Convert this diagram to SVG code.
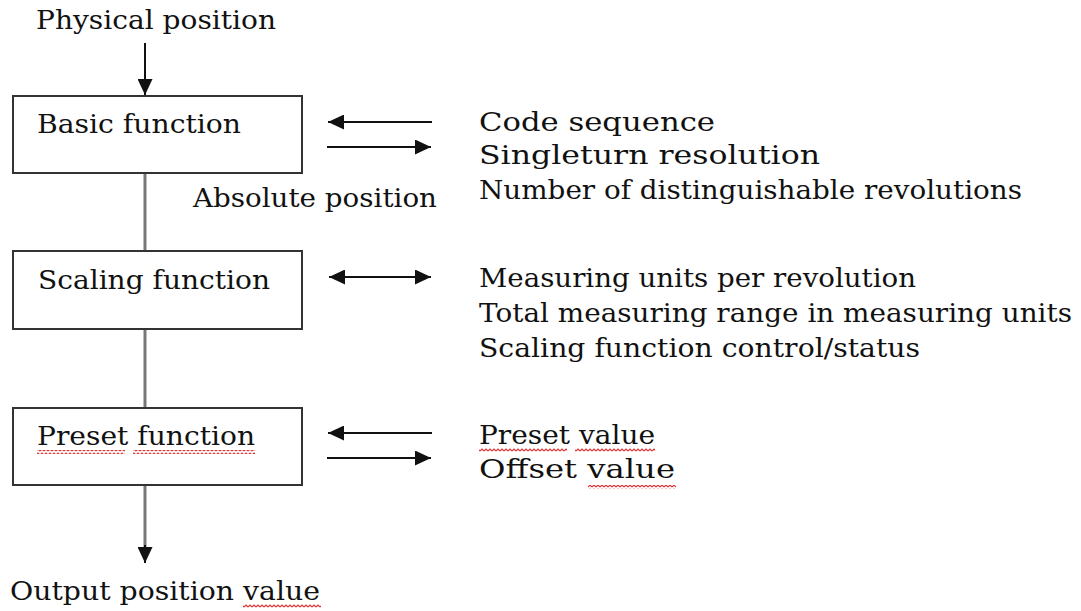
<svg xmlns="http://www.w3.org/2000/svg" width="1081" height="611" viewBox="0 0 1081 611">
<style>
  text { font-family: "DejaVu Serif", "Liberation Serif", serif; font-size: 26px; fill: #111; }
  .box { fill: #fff; stroke: #333; stroke-width: 2; }
  .arr { stroke: #111; stroke-width: 2; fill: none; }
  .conn { stroke: #777; stroke-width: 3; fill: none; }
</style>
<defs>
  <marker id="ah" markerUnits="userSpaceOnUse" markerWidth="17" markerHeight="15" refX="16" refY="7.5" orient="auto-start-reverse">
    <path d="M0,0 L16,7.5 L0,15 z" fill="#111"/>
  </marker>
  <pattern id="squig" width="4" height="4" patternUnits="userSpaceOnUse">
    <path d="M0,3 L2,1 L4,3" stroke="#e03030" stroke-width="1.2" fill="none"/>
  </pattern>
</defs>
<rect width="1081" height="611" fill="#fff"/>

<g id="connectors">
  <line class="arr" x1="145" y1="43" x2="145" y2="95" marker-end="url(#ah)"/>
  <line class="conn" x1="145" y1="173" x2="145" y2="251"/>
  <line class="conn" x1="145" y1="329" x2="145" y2="408"/>
  <line class="conn" x1="145" y1="485" x2="145" y2="550"/>
  <line class="arr" x1="145" y1="545" x2="145" y2="563" marker-end="url(#ah)"/>
  <line class="arr" x1="432" y1="122" x2="328" y2="122" marker-end="url(#ah)"/>
  <line class="arr" x1="327" y1="147" x2="431" y2="147" marker-end="url(#ah)"/>
  <line class="arr" x1="329" y1="277" x2="431" y2="277" marker-start="url(#ah)" marker-end="url(#ah)"/>
  <line class="arr" x1="432" y1="433" x2="328" y2="433" marker-end="url(#ah)"/>
  <line class="arr" x1="327" y1="458" x2="431" y2="458" marker-end="url(#ah)"/>
</g>

<g id="input">
  <text x="36" y="29" textLength="240" lengthAdjust="spacingAndGlyphs">Physical position</text>
</g>

<g id="basic-function">
  <rect class="box" x="13" y="96" width="289" height="77"/>
  <text x="37" y="133" textLength="204" lengthAdjust="spacingAndGlyphs">Basic function</text>
</g>

<g id="absolute-position">
  <text x="193" y="207" textLength="244" lengthAdjust="spacingAndGlyphs">Absolute position</text>
</g>

<g id="basic-params">
  <text x="479" y="131" textLength="236" lengthAdjust="spacingAndGlyphs">Code sequence</text>
  <text x="479" y="164" textLength="341" lengthAdjust="spacingAndGlyphs">Singleturn resolution</text>
  <text x="479" y="199" textLength="543" lengthAdjust="spacingAndGlyphs">Number of distinguishable revolutions</text>
</g>

<g id="scaling-function">
  <rect class="box" x="13" y="251" width="289" height="78"/>
  <text x="38" y="289" textLength="232" lengthAdjust="spacingAndGlyphs">Scaling function</text>
</g>

<g id="scaling-params">
  <text x="479" y="287" textLength="437" lengthAdjust="spacingAndGlyphs">Measuring units per revolution</text>
  <text x="479" y="322" textLength="593" lengthAdjust="spacingAndGlyphs">Total measuring range in measuring units</text>
  <text x="479" y="357" textLength="441" lengthAdjust="spacingAndGlyphs">Scaling function control/status</text>
</g>

<g id="preset-function">
  <rect class="box" x="13" y="408" width="289" height="77"/>
  <text x="37" y="445" textLength="218" lengthAdjust="spacingAndGlyphs">Preset function</text>
  <rect x="37" y="450" width="88" height="4" fill="url(#squig)"/>
  <rect x="133" y="450" width="122" height="4" fill="url(#squig)"/>
</g>

<g id="preset-params">
  <text x="479" y="444" textLength="176" lengthAdjust="spacingAndGlyphs">Preset value</text>
  <text x="479" y="478" textLength="196" lengthAdjust="spacingAndGlyphs">Offset value</text>
  <rect x="479" y="448" width="88" height="4" fill="url(#squig)"/>
  <rect x="575" y="448" width="80" height="4" fill="url(#squig)"/>
  <rect x="588" y="485" width="88" height="4" fill="url(#squig)"/>
</g>

<g id="output">
  <text x="10" y="600" textLength="310" lengthAdjust="spacingAndGlyphs">Output position value</text>
  <rect x="243" y="604" width="78" height="4" fill="url(#squig)"/>
</g>
</svg>
